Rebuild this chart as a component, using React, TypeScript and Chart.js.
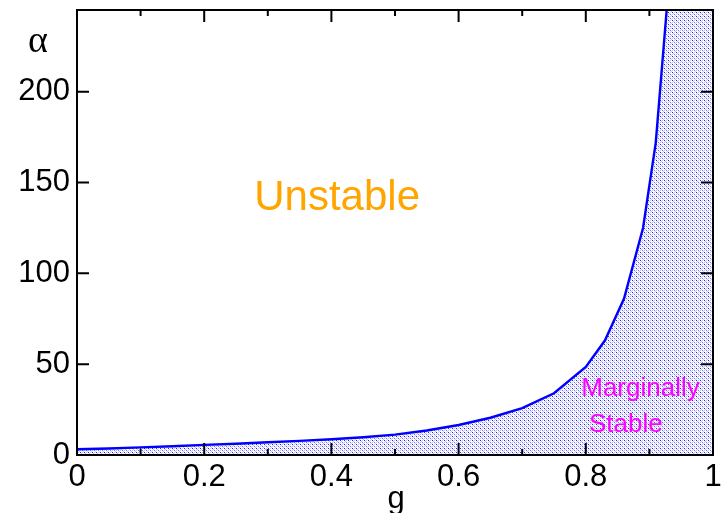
import React, { useEffect, useRef } from 'react';
import { Chart, registerables } from 'chart.js';

Chart.register(...registerables);

// Data
const gValues = [0, 0.05, 0.1, 0.15, 0.2, 0.25, 0.3, 0.35, 0.4, 0.45, 0.5, 0.55, 0.6, 0.65, 0.7, 0.75, 0.8, 0.83, 0.86, 0.89, 0.91, 0.93, 1.0];
const alphaValues = [3.2, 3.6, 4.2, 4.8, 5.6, 6.2, 7.0, 7.8, 8.7, 9.8, 11.2, 13.5, 16.5, 20.5, 25.8, 34.0, 48.5, 63, 86, 125, 172, 257, 257];

const xTicks = [0, 0.1, 0.2, 0.3, 0.4, 0.5, 0.6, 0.7, 0.8, 0.9, 1.0];
const xMajor = [0, 0.2, 0.4, 0.6, 0.8, 1.0];
const yTicks = [0, 50, 100, 150, 200];

const regionLabels = [
  { text: 'Unstable', g: 0.409, a: 141, size: 42, color: '#FFA500' },
  { text: 'Marginally', g: 0.886, a: 36.5, size: 26, color: '#FF00FF' },
  { text: 'Stable', g: 0.863, a: 16.5, size: 26, color: '#FF00FF' },
];

const FONT = '"Liberation Sans", Arial, sans-serif';

function makePattern(): CanvasPattern | string {
  const c = document.createElement('canvas');
  c.width = 4;
  c.height = 4;
  const ctx = c.getContext('2d');
  if (!ctx) return 'rgba(150,150,255,0.5)';
  ctx.fillStyle = '#ffffff';
  ctx.fillRect(0, 0, 4, 4);
  ctx.fillStyle = '#c0c0ff';
  ctx.fillRect(2, 0, 1, 1);
  ctx.fillRect(0, 2, 1, 1);
  ctx.fillRect(1, 1, 1, 1);
  ctx.fillRect(3, 3, 1, 1);
  ctx.fillStyle = '#2020ff';
  ctx.fillRect(0, 0, 1, 1);
  ctx.fillStyle = '#7070ff';
  ctx.fillRect(2, 2, 1, 1);
  const p = ctx.createPattern(c, 'repeat');
  return p || 'rgba(150,150,255,0.5)';
}

const decorPlugin = {
  id: 'decor',
  afterDatasetsDraw(chart: any) {
    const { ctx, chartArea, scales } = chart;
    const xs = scales.x;
    const ys = scales.y;
    const { left, right, top, bottom } = chartArea;
    ctx.save();
    // region labels
    regionLabels.forEach((l) => {
      ctx.font = `${l.size}px ${FONT}`;
      ctx.fillStyle = l.color;
      ctx.textAlign = 'center';
      ctx.textBaseline = 'middle';
      ctx.fillText(l.text, xs.getPixelForValue(l.g), ys.getPixelForValue(l.a));
    });
    // frame
    ctx.strokeStyle = '#000';
    ctx.lineWidth = 2;
    ctx.strokeRect(left, top, right - left, bottom - top);
    // x ticks
    xTicks.forEach((v) => {
      const isMajor = xMajor.some((m) => Math.abs(m - v) < 1e-9);
      const len = isMajor ? 12 : 6;
      const px = xs.getPixelForValue(v);
      ctx.beginPath();
      ctx.moveTo(px, bottom);
      ctx.lineTo(px, bottom - len);
      ctx.moveTo(px, top);
      ctx.lineTo(px, top + len);
      ctx.stroke();
    });
    yTicks.forEach((v) => {
      const py = ys.getPixelForValue(v);
      ctx.beginPath();
      ctx.moveTo(left, py);
      ctx.lineTo(left + 12, py);
      ctx.moveTo(right, py);
      ctx.lineTo(right - 12, py);
      ctx.stroke();
    });
    // axis titles
    ctx.fillStyle = '#000';
    ctx.textAlign = 'center';
    ctx.textBaseline = 'alphabetic';
    ctx.font = `38px "Liberation Serif", "DejaVu Serif", serif`;
    ctx.fillText('α', 38, 52);
    ctx.font = `31px ${FONT}`;
    ctx.fillText('g', (left + right) / 2 + 1, 508);
    ctx.restore();
  },
};

export default function App() {
  const ref = useRef<HTMLCanvasElement | null>(null);
  useEffect(() => {
    if (!ref.current) return;
    const pattern = makePattern();
    const data = gValues.map((g, i) => ({ x: g, y: alphaValues[i] }));
    const chart = new Chart(ref.current, {
      type: 'line',
      data: {
        datasets: [
          {
            data,
            borderColor: '#0000FF',
            borderWidth: 2.4,
            pointRadius: 0,
            tension: 0,
            fill: 'origin',
            backgroundColor: pattern as any,
          },
        ],
      },
      options: {
        responsive: false,
        animation: false,
        layout: { padding: { left: 0, right: 12, top: 10, bottom: 0 } },
        plugins: { legend: { display: false }, tooltip: { enabled: false } },
        scales: {
          x: {
            type: 'linear',
            min: 0,
            max: 1,
            afterBuildTicks: (s: any) => {
              s.ticks = xTicks.map((v) => ({ value: v }));
            },
            afterFit: (s: any) => {
              s.height = 58;
              s.paddingLeft = 0;
              s.paddingRight = 0;
            },
            grid: { display: false, drawTicks: false },
            border: { display: false },
            ticks: {
              autoSkip: false,
              maxRotation: 0,
              padding: 4,
              color: '#000',
              font: { size: 31, family: FONT },
              callback: (v: any) => {
                const n = Number(v);
                const isMajor = xMajor.some((m) => Math.abs(m - n) < 1e-9);
                return isMajor ? String(Number(n.toFixed(1))) : '';
              },
            },
          },
          y: {
            type: 'linear',
            min: 0,
            max: 245,
            afterBuildTicks: (s: any) => {
              s.ticks = yTicks.map((v) => ({ value: v }));
            },
            afterFit: (s: any) => {
              s.width = 77;
              s.paddingTop = 0;
              s.paddingBottom = 0;
            },
            grid: { display: false, drawTicks: false },
            border: { display: false },
            ticks: {
              autoSkip: false,
              padding: 7,
              color: '#000',
              font: { size: 31, family: FONT },
              callback: (v: any) => String(v),
            },
          },
        },
      },
      plugins: [decorPlugin],
    });
    return () => chart.destroy();
  }, []);
  return (
    <canvas
      ref={ref}
      width={725}
      height={513}
      style={{ position: 'absolute', left: 0, top: 0, width: 725, height: 513, background: '#fff' }}
    />
  );
}
